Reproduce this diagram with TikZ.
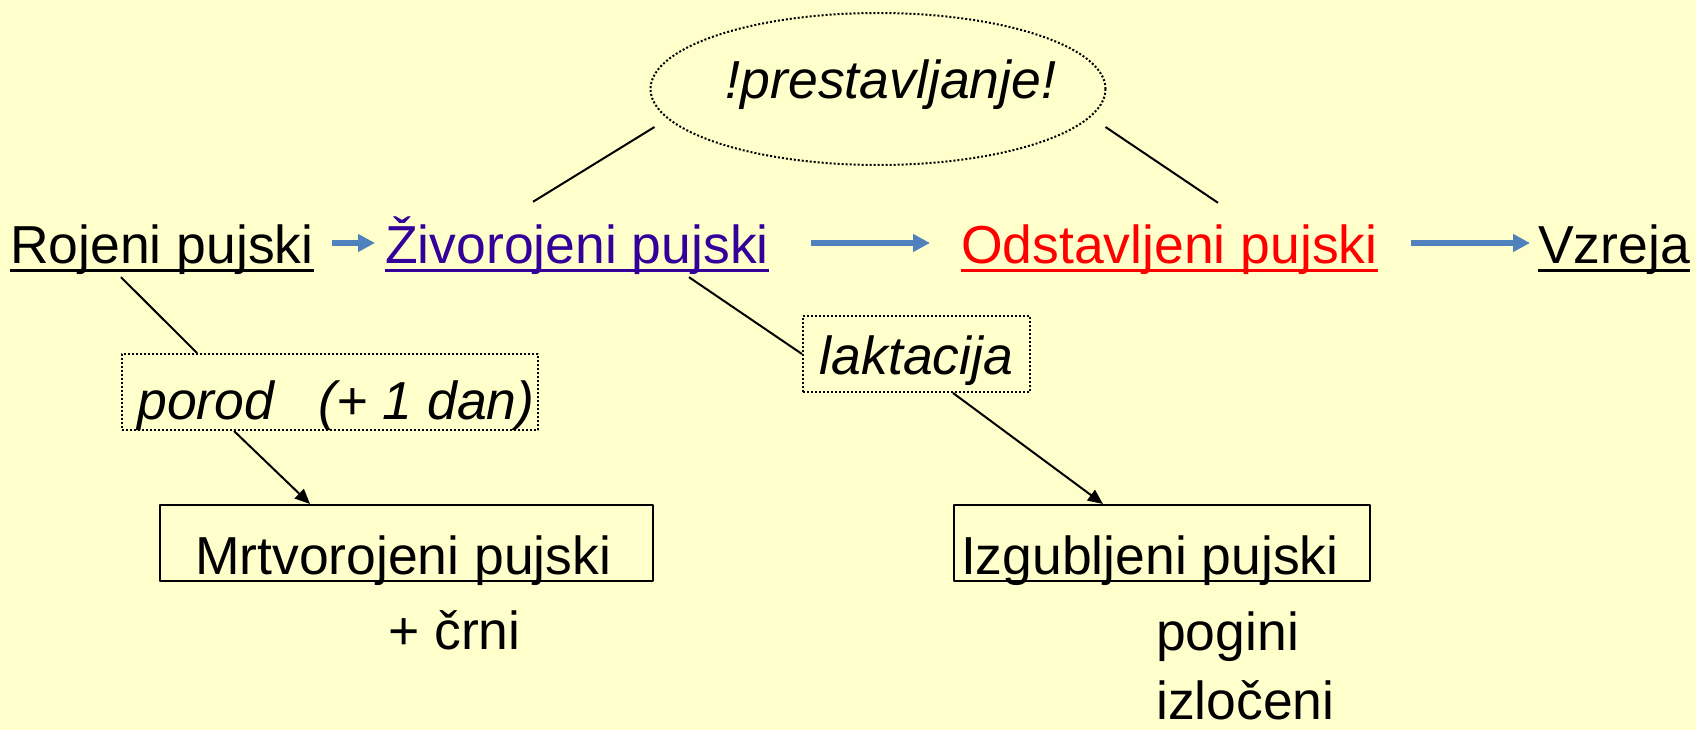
\documentclass[tikz,border=0pt]{standalone}
\usepackage{fontspec}
\setmainfont{Liberation Sans}
\usetikzlibrary{arrows.meta,shapes.geometric}
\definecolor{pozadina}{HTML}{FFFFCC}
\definecolor{strelica}{HTML}{4F81BD}
\definecolor{vijola}{HTML}{330099}
\begin{document}
\begin{tikzpicture}[x=1pt, y=-1pt, line join=round,
	font=\fontsize{53.5pt}{64pt}\selectfont,
	lbl/.style={inner sep=0pt, text height=40pt, text depth=0pt, anchor=base west},
	oval/.style={ellipse, draw, line width=2pt, dash pattern=on 2pt off 2pt, minimum width=455pt, minimum height=152pt, inner sep=0pt, text height=30pt, text depth=11pt},
	tockice/.style={draw, line width=2pt, dash pattern=on 2pt off 2pt, inner sep=0pt, anchor=north west},
	okvir/.style={draw, line width=2pt, inner sep=0pt, text height=69pt, text depth=7pt, anchor=north west},
	tok/.style={draw=strelica, line width=6pt, -{Triangle[length=17pt,width=17pt]}},
	veza/.style={line width=2pt},
	vrh/.style={-{Triangle[length=15pt,width=13pt]}}]
	\fill[pozadina] (0,0) rectangle (1696,730);
	\useasboundingbox (0,0) rectangle (1696,730);
	\node[lbl] (rojeni) at (10,263) {Rojeni pujski};
	\node[lbl, text=vijola] (zivo) at (385,263) {Živorojeni pujski};
	\node[lbl, text=red] (odst) at (961,263) {Odstavljeni pujski};
	\node[lbl] (vzreja) at (1538,263) {Vzreja};
	\node[oval] (prest) at (878,89) {\makebox[300pt]{\hspace*{26pt}\itshape !prestavljanje!}};
	\node[tockice, minimum width=416pt, text height=65pt, text depth=11pt] (porod) at (121,353) {\itshape\hspace*{12pt}porod~~~(+ 1 dan)};
	\node[tockice, minimum width=227pt, text height=58pt, text depth=18pt] (lakt) at (802,315) {\itshape laktacija};
	\node[okvir] (mrtvo) at (159,504) {\makebox[493pt][l]{\hspace*{35pt}Mrtvorojeni pujski}};
	\node[okvir] (izgub) at (953,504) {\makebox[416pt][l]{\hspace*{7pt}Izgubljeni pujski}};
	\node[lbl] (crni) at (388,649) {+ črni};
	\node[lbl] (pogini) at (1156,650) {pogini};
	\node[lbl] (izloceni) at (1156,719) {izločeni};
	\draw[line width=3.5pt] ([yshift=-7.5pt]rojeni.base west) -- ([yshift=-7.5pt]rojeni.base east);
	\draw[line width=3.5pt, vijola] ([yshift=-7.5pt]zivo.base west) -- ([yshift=-7.5pt]zivo.base east);
	\draw[line width=3.5pt, red] ([yshift=-7.5pt]odst.base west) -- ([yshift=-7.5pt]odst.base east);
	\draw[line width=3.5pt] ([yshift=-7.5pt]vzreja.base west) -- ([yshift=-7.5pt]vzreja.base east);
	\draw[tok, shorten <=18pt, shorten >=10pt] (rojeni) -- (zivo);
	\draw[tok, shorten <=42pt, shorten >=31pt] (zivo) -- (odst);
	\draw[tok, shorten <=33pt, shorten >=8pt] (odst) -- (vzreja);
	\draw[veza] ([shift={(5pt,-38pt)}]prest.west) -- ([shift={(148pt,21pt)}]zivo.north west);
	\draw[veza] ([shift={(-1pt,-38pt)}]prest.east) -- ([shift={(257pt,20pt)}]odst.north west);
	\draw[veza] ([shift={(111pt,-14pt)}]rojeni.south west) -- ([xshift=76pt]porod.north west);
	\draw[veza] ([shift={(304pt,-14pt)}]zivo.south west) -- (lakt.west);
	\draw[veza, vrh] ([xshift=113pt]porod.south west) -- ([xshift=151pt]mrtvo.north west);
	\draw[veza, vrh] ([xshift=151pt]lakt.south west) -- ([xshift=150pt]izgub.north west);
\end{tikzpicture}
\end{document}
